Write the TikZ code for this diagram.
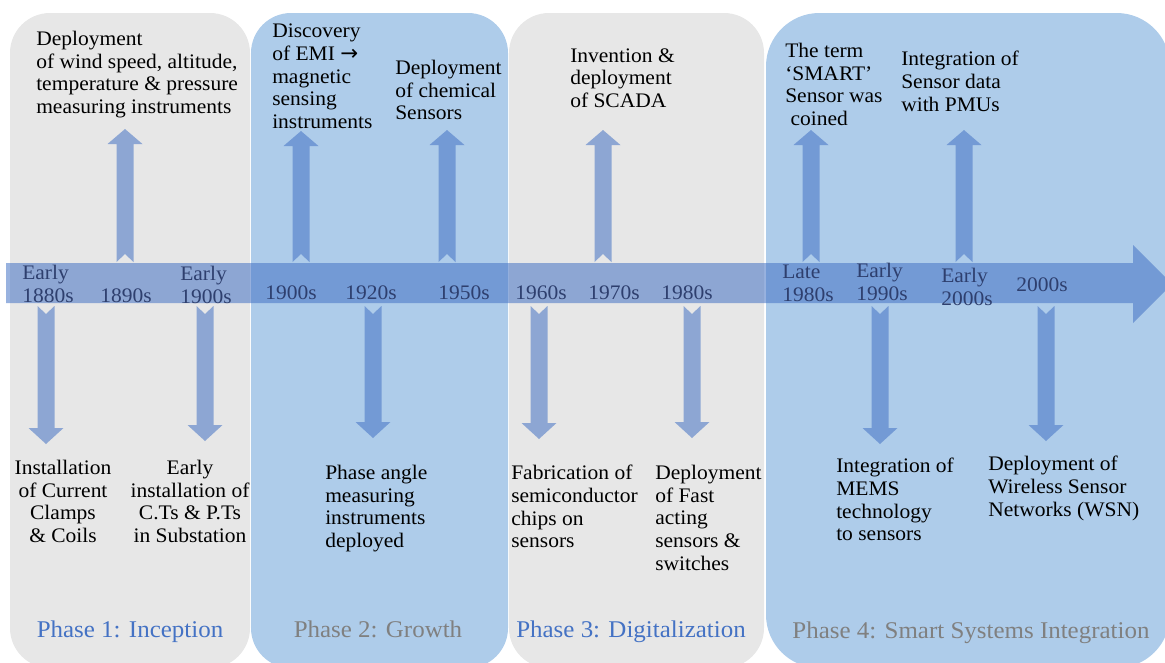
\documentclass[tikz,border=0pt]{standalone}
\usepackage{fontspec}
\newfontfamily\bodyserif[FakeStretch=1.04]{Liberation Serif}
\newfontfamily\arrowfont{DejaVu Sans}
\begin{document}
\definecolor{panelgray}{HTML}{E7E7E7}
\definecolor{panelblue}{HTML}{AECCEA}
\definecolor{flowblue}{HTML}{4472C4}
\definecolor{yeartext}{HTML}{2E3F6E}
\definecolor{phaseblue}{HTML}{4472C4}
\definecolor{phasegray}{HTML}{808080}
% block arrow pointing up: name, centre x, tip y
\newcommand{\upmark}[3]{%
  \fill[flow] (#2-8.5,262) -- (#2-8.5,#3+15) -- (#2-17.5,#3+15) -- (#2,#3)
    -- (#2+17.5,#3+15) -- (#2+8.5,#3+15) -- (#2+8.5,262) -- (#2,254) -- cycle;
  \coordinate (#1) at (#2,#3);}
% block arrow pointing down: name, centre x, tip y
\newcommand{\downmark}[3]{%
  \fill[flow] (#2-8.5,306) -- (#2-8.5,#3-16) -- (#2-17.5,#3-16) -- (#2,#3)
    -- (#2+17.5,#3-16) -- (#2+8.5,#3-16) -- (#2+8.5,306) -- (#2,314) -- cycle;
  \coordinate (#1) at (#2,#3);}
\begin{tikzpicture}[x=0.75pt,y=-0.75pt,
  flow/.style={fill=flowblue,fill opacity=0.55},
  graypanel/.style={fill=panelgray,rounded corners=30},
  bluepanel/.style={fill=panelblue,rounded corners=30},
  event/.style={anchor=north west,inner sep=0pt,align=left,
    font=\bodyserif\fontsize{15.5}{17}\selectfont},
  eventc/.style={event,anchor=north,align=center},
  year/.style={event,text=yeartext},
  phase/.style={anchor=base,inner sep=0pt,font=\bodyserif\fontsize{18}{20}\selectfont}]
\useasboundingbox (0,0) rectangle (1165,662);

% phase panels
\fill[graypanel] (10,13) rectangle (250,668);
\fill[bluepanel] (251,13) rectangle (508,668);
\fill[graypanel] (509,13) rectangle (764,668);
\fill[bluepanel,rounded corners=40] (766,13) rectangle (1170,668);

% main time line
\fill[flow] (6,263) -- (1133,263) -- (1133,245) -- (1172,284)
  -- (1133,323) -- (1133,303) -- (6,303) -- cycle;

% events above the line
\upmark{u1}{125}{129}
\upmark{u2}{301}{131}
\upmark{u3}{447}{130}
\upmark{u4}{603}{130}
\upmark{u5}{811}{130}
\upmark{u6}{964}{130}

% events below the line
\downmark{d1}{46}{444}
\downmark{d2}{205}{441}
\downmark{d3}{373}{438}
\downmark{d4}{539}{439}
\downmark{d5}{692}{438}
\downmark{d6}{880}{444}
\downmark{d7}{1046}{441}

% years on the line
\node[year] (y1) at (22,265) {Early\\1880s};
\node[year] (y2) at (100,288) {1890s};
\node[year] (y3) at (180,266) {Early\\1900s};
\node[year] (y4) at (265,285) {1900s};
\node[year] (y5) at (345,285) {1920s};
\node[year] (y6) at (438,285) {1950s};
\node[year] (y7) at (515,285) {1960s};
\node[year] (y8) at (588,285) {1970s};
\node[year] (y9) at (661,285) {1980s};
\node[year] (y10) at (782,265) {Late\\1980s};
\node[year] (y11) at (856,263) {Early\\1990s};
\node[year] (y12) at (941,268) {Early\\2000s};
\node[year] (y13) at (1016,277) {2000s};

% texts above
\node[event] (t1) at (36,31) {Deployment\\of wind speed, altitude,\\temperature \& pressure\\measuring instruments};
\node[event] (t2) at (272,24) {Discovery\\of EMI {\arrowfont\fontsize{16}{17}\selectfont →}\\magnetic\\sensing\\instruments};
\node[event] (t3) at (395,60) {Deployment\\of chemical\\Sensors};
\node[event] (t4) at (570,48) {Invention \&\\deployment\\of SCADA};
\node[event] (t5) at (785,43) {The term\\‘SMART’\\Sensor was\\\hspace{4pt}coined};
\node[event] (t6) at (901,51) {Integration of\\Sensor data\\with PMUs};

% texts below
\node[eventc] (b1) at (63,460) {Installation\\of Current\\Clamps\\\& Coils};
\node[eventc] (b2) at (190,460) {Early\\installation of\\C.Ts \& P.Ts\\in Substation};
\node[event] (b3) at (325,465) {Phase angle\\measuring\\instruments\\deployed};
\node[event] (b4) at (511,465) {Fabrication of\\semiconductor\\chips on\\sensors};
\node[event] (b5) at (655,465) {Deployment\\of Fast\\acting\\sensors \&\\switches};
\node[event] (b6) at (836,458) {Integration of\\MEMS\\technology\\to sensors};
\node[event] (b7) at (988,456) {Deployment of\\Wireless Sensor\\Networks (WSN)};

% phase titles
\node[phase,text=phaseblue] (p1) at (130,637) {Phase 1: Inception};
\node[phase,text=phasegray] (p2) at (378,637) {Phase 2: Growth};
\node[phase,text=phaseblue] (p3) at (631,637) {Phase 3: Digitalization};
\node[phase,text=phasegray] (p4) at (971,638) {Phase 4: Smart Systems Integration};
\end{tikzpicture}
\end{document}
